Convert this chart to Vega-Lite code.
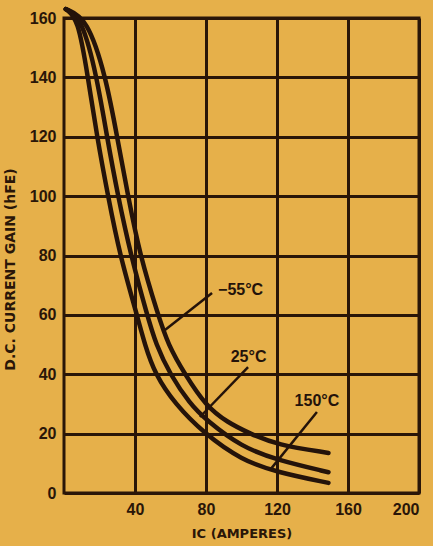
{
  "$schema": "https://vega.github.io/schema/vega-lite/v6.json",
  "width": 355,
  "height": 475,
  "autosize": {"type": "none"},
  "padding": {"left": 64, "top": 18, "right": 14, "bottom": 53},
  "background": "#e6b04a",
  "config": {
    "view": {"stroke": "#2a1608", "strokeWidth": 3},
    "axis": {
      "labelFont": "Liberation Sans",
      "labelFontWeight": "bold",
      "labelFontSize": 16,
      "labelColor": "#2a1608",
      "titleFont": "DejaVu Sans",
      "titleFontWeight": "bold",
      "titleColor": "#2a1608",
      "domain": false,
      "ticks": false,
      "grid": true,
      "gridColor": "#2a1608",
      "gridWidth": 3,
      "gridOpacity": 1
    }
  },
  "datasets": {
    "curves": [
      {"series": "-55", "x": 1, "y": 163},
      {"series": "-55", "x": 13, "y": 160},
      {"series": "-55", "x": 23.7, "y": 140},
      {"series": "-55", "x": 29.9, "y": 120},
      {"series": "-55", "x": 36.1, "y": 100},
      {"series": "-55", "x": 42.8, "y": 80},
      {"series": "-55", "x": 53, "y": 60},
      {"series": "-55", "x": 58.6, "y": 50},
      {"series": "-55", "x": 68.1, "y": 40},
      {"series": "-55", "x": 80, "y": 29.3},
      {"series": "-55", "x": 92, "y": 23.8},
      {"series": "-55", "x": 104.8, "y": 20},
      {"series": "-55", "x": 120, "y": 16.2},
      {"series": "-55", "x": 149, "y": 13.5},
      {"series": "25", "x": 1, "y": 163},
      {"series": "25", "x": 10.1, "y": 160},
      {"series": "25", "x": 18.6, "y": 140},
      {"series": "25", "x": 24.2, "y": 120},
      {"series": "25", "x": 30.4, "y": 100},
      {"series": "25", "x": 37.7, "y": 80},
      {"series": "25", "x": 46.8, "y": 60},
      {"series": "25", "x": 51.8, "y": 50},
      {"series": "25", "x": 59.7, "y": 40},
      {"series": "25", "x": 71, "y": 30},
      {"series": "25", "x": 80, "y": 24.6},
      {"series": "25", "x": 100, "y": 15.5},
      {"series": "25", "x": 120, "y": 11.1},
      {"series": "25", "x": 149, "y": 7},
      {"series": "150", "x": 1, "y": 163},
      {"series": "150", "x": 7.9, "y": 160},
      {"series": "150", "x": 13.5, "y": 140},
      {"series": "150", "x": 18.6, "y": 120},
      {"series": "150", "x": 24.8, "y": 100},
      {"series": "150", "x": 31.5, "y": 80},
      {"series": "150", "x": 41.1, "y": 60},
      {"series": "150", "x": 45.5, "y": 50},
      {"series": "150", "x": 51.3, "y": 40},
      {"series": "150", "x": 62.5, "y": 30},
      {"series": "150", "x": 79, "y": 20},
      {"series": "150", "x": 100, "y": 11.1},
      {"series": "150", "x": 120, "y": 7},
      {"series": "150", "x": 149, "y": 3.4}
    ],
    "labels": [
      {"label": "−55°C", "tx": 99.5, "ty": 68.4, "x": 83.4, "y": 67.4, "x2": 56, "y2": 54.5},
      {"label": "25°C", "tx": 104, "ty": 45.8, "x": 103.7, "y": 42.4, "x2": 76.6, "y2": 25.6},
      {"label": "150°C", "tx": 142.5, "ty": 31, "x": 142.5, "y": 27.3, "x2": 116, "y2": 7.7}
    ]
  },
  "layer": [
    {
      "data": {"name": "curves"},
      "mark": {"type": "line", "interpolate": "basis", "color": "#24130a", "strokeWidth": 4.5, "strokeCap": "round"},
      "encoding": {
        "x": {
          "field": "x", "type": "quantitative",
          "scale": {"domain": [0, 200], "nice": false},
          "axis": {"values": [40, 80, 120, 160, 200], "labelPadding": 8, "title": "IC (AMPERES)", "titleFontSize": 13, "titlePadding": 10}
        },
        "y": {
          "field": "y", "type": "quantitative",
          "scale": {"domain": [0, 160], "nice": false},
          "axis": {"values": [0, 20, 40, 60, 80, 100, 120, 140, 160], "labelPadding": 8, "title": "D.C. CURRENT GAIN (hFE)", "titleFontSize": 14, "titleX": -47, "titleY": 251}
        },
        "detail": {"field": "series"}
      }
    },
    {
      "data": {"name": "labels"},
      "mark": {"type": "rule", "color": "#24130a", "strokeWidth": 2.5},
      "encoding": {
        "x": {"field": "x", "type": "quantitative"},
        "y": {"field": "y", "type": "quantitative"},
        "x2": {"field": "x2"},
        "y2": {"field": "y2"}
      }
    },
    {
      "data": {"name": "labels"},
      "mark": {"type": "text", "font": "Liberation Sans", "fontWeight": "bold", "fontSize": 16, "color": "#24130a", "align": "center", "baseline": "middle"},
      "encoding": {
        "x": {"field": "tx", "type": "quantitative"},
        "y": {"field": "ty", "type": "quantitative"},
        "text": {"field": "label"}
      }
    }
  ]
}
